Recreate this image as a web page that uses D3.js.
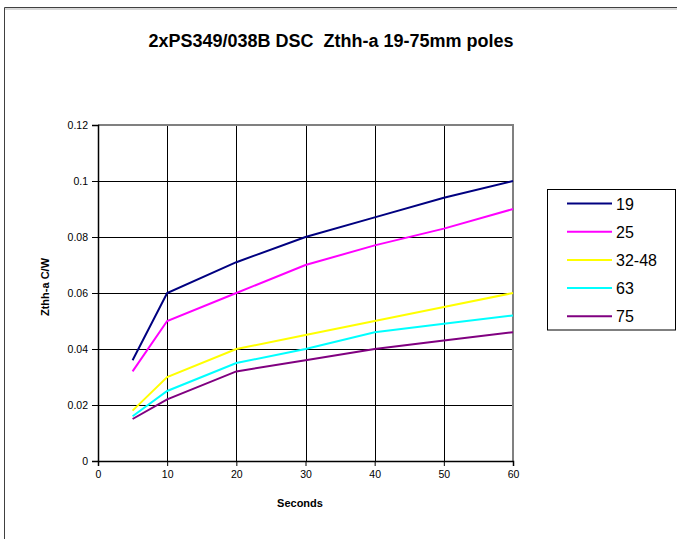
<!DOCTYPE html>
<html>
<head>
<meta charset="utf-8">
<script src="https://cdn.jsdelivr.net/npm/d3@7"></script>
<style>
  body { margin: 0; background: #fff; }
  svg { display: block; font-family: "Liberation Sans", Arial, sans-serif; }
</style>
</head>
<body>
<div id="chart"></div>
<script>
// data
const seconds = [5, 10, 20, 30, 40, 50, 60];
const poles = ["19", "25", "32-48", "63", "75"];
const z19   = [0.036, 0.060, 0.071, 0.080, 0.087, 0.094, 0.100];
const z25   = [0.032, 0.050, 0.060, 0.070, 0.077, 0.083, 0.090];
const z3248 = [0.018, 0.030, 0.040, 0.045, 0.050, 0.055, 0.060];
const z63   = [0.016, 0.025, 0.035, 0.040, 0.046, 0.049, 0.052];
const z75   = [0.015, 0.022, 0.032, 0.036, 0.040, 0.043, 0.046];
const xTicks = [0, 10, 20, 30, 40, 50, 60];
const yTicks = [0, 0.02, 0.04, 0.06, 0.08, 0.1, 0.12];
const colors = ["#000080", "#ff00ff", "#ffff00", "#00ffff", "#800080"];

const width = 677, height = 539;
const plotLeft = 98, plotRight = 513, plotTop = 125, plotBottom = 461;

const series = poles.map((p, i) => ({
  key: p,
  values: [z19, z25, z3248, z63, z75][i].map((v, j) => ({ x: seconds[j], y: v }))
}));

const x = d3.scaleLinear().domain([0, 60]).range([plotLeft, plotRight]);
const y = d3.scaleLinear().domain([0, 0.12]).range([plotBottom, plotTop]);

const svg = d3.select("#chart").append("svg")
  .attr("width", width)
  .attr("height", height);

// outer frame (only top and left edges show)
svg.append("line").attr("x1", 4.5).attr("x2", width).attr("y1", 7.5).attr("y2", 7.5)
  .attr("stroke", "#404040");
svg.append("line").attr("x1", 4.5).attr("x2", width).attr("y1", 9).attr("y2", 9)
  .attr("stroke", "#b0b0b0");
svg.append("line").attr("x1", 4.5).attr("x2", 4.5).attr("y1", 7.5).attr("y2", height)
  .attr("stroke", "#404040");

// title
svg.append("text")
  .attr("x", 331).attr("y", 47)
  .attr("text-anchor", "middle")
  .attr("font-size", 18).attr("font-weight", "bold")
  .attr("xml:space", "preserve")
  .text("2xPS349/038B DSC  Zthh-a 19-75mm poles");

// gridlines
svg.append("g").selectAll("line")
  .data(yTicks.slice(1, -1))
  .join("line")
  .attr("x1", plotLeft).attr("x2", plotRight)
  .attr("y1", d => Math.round(y(d)) + 0.5).attr("y2", d => Math.round(y(d)) + 0.5)
  .attr("stroke", "#000");
svg.append("g").selectAll("line")
  .data(xTicks.slice(1, -1))
  .join("line")
  .attr("x1", d => Math.round(x(d)) + 0.5).attr("x2", d => Math.round(x(d)) + 0.5)
  .attr("y1", plotTop).attr("y2", plotBottom)
  .attr("stroke", "#000");

// plot frame top/right in gray
svg.append("path")
  .attr("d", `M${plotLeft},${plotTop} H${plotRight} V${plotBottom}`)
  .attr("fill", "none")
  .attr("stroke", "#808080")
  .attr("stroke-width", 2);

// axes
svg.append("g")
  .attr("transform", `translate(${plotLeft},0)`)
  .call(d3.axisLeft(y).tickValues(yTicks).tickFormat(d => String(d)).tickSize(6).tickPadding(4))
  .call(g => g.select(".domain").attr("stroke-width", 1.5))
  .call(g => g.selectAll("text").attr("font-size", 10.5).attr("font-family", "Liberation Sans, Arial, sans-serif").attr("fill", "#000"));

svg.append("g")
  .attr("transform", `translate(0,${plotBottom})`)
  .call(d3.axisBottom(x).tickValues(xTicks).tickSize(5).tickPadding(5))
  .call(g => g.select(".domain").attr("stroke-width", 1.5))
  .call(g => g.selectAll("text").attr("font-size", 10.5).attr("font-family", "Liberation Sans, Arial, sans-serif").attr("fill", "#000"));

// axis titles
svg.append("text")
  .attr("x", 300).attr("y", 507)
  .attr("text-anchor", "middle")
  .attr("font-size", 11).attr("font-weight", "bold")
  .text("Seconds");
svg.append("text")
  .attr("transform", "translate(49,287) rotate(-90)")
  .attr("text-anchor", "middle")
  .attr("font-size", 11).attr("font-weight", "bold")
  .text("Zthh-a C/W");

// series lines
const line = d3.line().x(d => x(d.x)).y(d => y(d.y));
svg.append("g").selectAll("path")
  .data(series)
  .join("path")
  .attr("fill", "none")
  .attr("stroke", (d, i) => colors[i])
  .attr("stroke-width", 2)
  .attr("d", d => line(d.values));

// legend
const legend = svg.append("g");
legend.append("rect")
  .attr("x", 547.5).attr("y", 189.5)
  .attr("width", 128).attr("height", 140.5)
  .attr("fill", "#fff").attr("stroke", "#000");
const rows = legend.selectAll("g.item")
  .data(series)
  .join("g")
  .attr("class", "item")
  .attr("transform", (d, i) => `translate(0,${203.5 + i * 28.2})`);
rows.append("line")
  .attr("x1", 567).attr("x2", 612)
  .attr("stroke", (d, i) => colors[i])
  .attr("stroke-width", 2);
rows.append("text")
  .attr("x", 616).attr("y", 6)
  .attr("font-size", 16)
  .text(d => d.key);
</script>
</body>
</html>
